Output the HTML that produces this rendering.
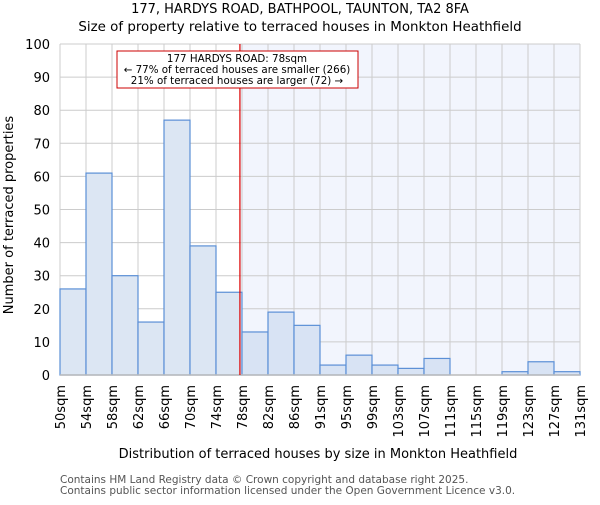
<!DOCTYPE html>
<html><head><meta charset="utf-8"><style>
body{margin:0;background:#fff;}
svg{font-family:"DejaVu Sans","Liberation Sans",sans-serif;}
</style></head><body>
<svg id="c" width="600" height="500" viewBox="0 0 600 500">
<text x="300" y="13" text-anchor="middle" font-size="13">177, HARDYS ROAD, BATHPOOL, TAUNTON, TA2 8FA</text>
<text x="300" y="31" text-anchor="middle" font-size="13.4">Size of property relative to terraced houses in Monkton Heathfield</text>
<g id="plot"></g>
<text x="318" y="458" text-anchor="middle" font-size="13">Distribution of terraced houses by size in Monkton Heathfield</text>
<text transform="translate(13,215) rotate(-90)" text-anchor="middle" font-size="13">Number of terraced properties</text>
<text x="60" y="483" font-size="10.5" fill="#555">Contains HM Land Registry data © Crown copyright and database right 2025.</text>
<text x="60" y="494" font-size="10.5" fill="#555">Contains public sector information licensed under the Open Government Licence v3.0.</text>
</svg>
<script>
const tickLabels=["50sqm","54sqm","58sqm","62sqm","66sqm","70sqm","74sqm","78sqm","82sqm","86sqm","91sqm","95sqm","99sqm","103sqm","107sqm","111sqm","115sqm","119sqm","123sqm","127sqm","131sqm"];
const counts=[26,61,30,16,77,39,25,13,19,15,3,6,3,2,5,0,0,1,4,1];
const yTicks=[0,10,20,30,40,50,60,70,80,90,100];
const markerBin=6.92;
const NS="http://www.w3.org/2000/svg";
const X0=60,X1=580,Y0=375,Y1=44,YMAX=100;
const nb=counts.length;
const xs=i=>X0+(X1-X0)*i/nb;
const ys=v=>Y0-(Y0-Y1)*v/YMAX;
const g=document.getElementById('plot');
function mk(t,a){const e=document.createElementNS(NS,t);for(const k in a)e.setAttribute(k,a[k]);g.appendChild(e);return e;}
const mx=xs(markerBin);
let e=mk('rect',{x:mx,y:Y1,width:X1-mx,height:Y0-Y1,fill:'#f2f5fd'});


for(let i=0;i<=nb;i++){e=mk('line',{x1:xs(i),x2:xs(i),y1:Y1,y2:Y0,stroke:'#ccc','stroke-width':1});

}
yTicks.forEach(v=>{e=mk('line',{x1:X0,x2:X1,y1:ys(v),y2:ys(v),stroke:'#ccc','stroke-width':1});


e=mk('text',{x:X0-10,y:ys(v)+5,'text-anchor':'end','font-size':13});e.textContent=v;

});
counts.forEach((c,i)=>{if(c<=0)return;e=mk('rect',{x:xs(i),y:ys(c),width:xs(i+1)-xs(i),height:Y0-ys(c),fill:i>=7?'#d8e3f4':'#dce6f3',stroke:'#5b8fd6','stroke-width':1.2});

});
e=mk('line',{x1:X0,x2:X1,y1:Y0,y2:Y0,stroke:'#bbb','stroke-width':1.5});


tickLabels.forEach((t,i)=>{e=mk('text',{transform:`translate(${xs(i)+5},${Y0+10}) rotate(-90)`,'text-anchor':'end','font-size':13});e.textContent=t;

});
e=mk('line',{x1:mx,x2:mx,y1:Y1,y2:Y0,stroke:'#d00','stroke-width':1.2});


e=mk('rect',{x:117,y:51,width:241,height:37,fill:'#fff',stroke:'#c00','stroke-width':1});


["177 HARDYS ROAD: 78sqm","← 77% of terraced houses are smaller (266)","21% of terraced houses are larger (72) →"].forEach((t,i)=>{e=mk('text',{x:237,y:62+i*11,'text-anchor':'middle','font-size':10.3});e.textContent=t;

});
</script>
</body></html>
